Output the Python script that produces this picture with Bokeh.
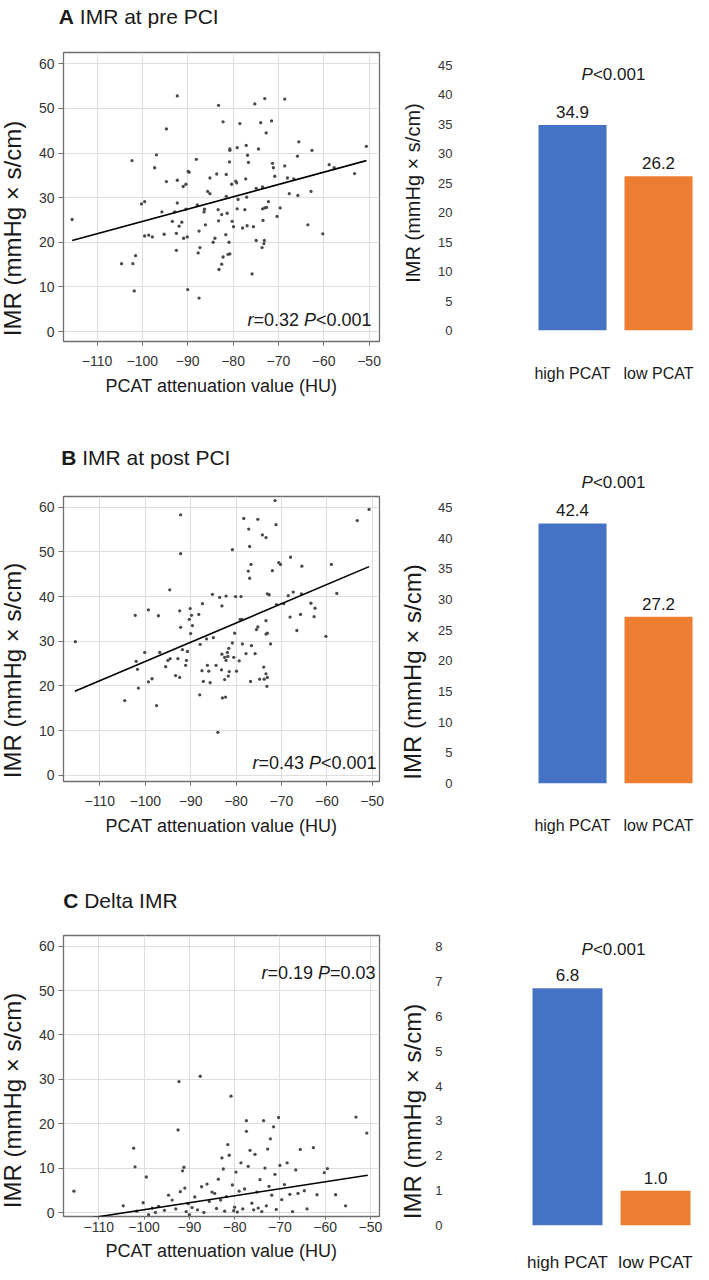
import math
from bokeh.plotting import figure
from bokeh.layouts import column, row
from bokeh.models import Range1d, FixedTicker, Label, LabelSet, ColumnDataSource
from bokeh.core.properties import value
from bokeh.embed import file_html
from bokeh.resources import INLINE

# ---------------- data ----------------
X_TICKS = [-110, -100, -90, -80, -70, -60, -50]
X_TICK_LABELS = ["\u2212110", "\u2212100", "\u221290", "\u221280", "\u221270", "\u221260", "\u221250"]
Y_TICKS = [0, 10, 20, 30, 40, 50, 60]

A_hu = [-115.5, -102.3, -104.6, -102.1, -101.5, -101.8, -100.2, -99.5, -99.5, -98.6, -97.8, -97.3, -96.9,
        -95.7, -95.2, -94.7, -94.7, -93.4, -92.9, -92.5, -92.5, -92.3, -92.3, -92.3, -91.9, -91.3, -91.0,
        -90.9, -90.4, -90.4, -90.1, -90.0, -89.9, -89.7, -88.1, -87.9, -87.7, -87.5, -87.3, -87.5, -86.3,
        -86.4, -86.1, -85.6, -85.1, -85.1, -84.4, -84.0, -83.6, -83.3, -83.2, -83.1, -83.2, -82.5, -82.2,
        -82.5, -82.2, -81.6, -81.5, -81.5, -81.3, -80.9, -81.1, -80.7, -80.8, -80.7, -80.7, -80.3, -80.2,
        -79.9, -79.4, -79.2, -79.1, -79.1, -78.9, -78.5, -77.9, -77.4, -77.2, -77.1, -77.0, -76.9, -76.8,
        -76.6, -75.5, -75.8, -75.2, -74.9, -74.9, -74.4, -73.9, -73.6, -73.5, -73.5, -73.4, -73.2, -73.1,
        -73.0, -73.0, -72.7, -72.6, -72.2, -71.5, -71.3, -71.1, -70.8, -70.3, -69.6, -68.6, -68.6, -68.0,
        -67.6, -66.6, -65.8, -65.7, -65.5, -63.5, -62.8, -62.6, -60.2, -58.8, -57.7, -53.2, -50.6]
A_imr = [25.1, 38.3, 15.2, 15.2, 17.0, 9.1, 28.6, 29.1, 21.4, 21.6, 21.2, 36.7, 39.6,
         26.8, 21.8, 45.4, 33.6, 24.7, 26.8, 22.0, 18.2, 52.8, 33.9, 28.8, 23.6, 24.5, 32.5,
         20.9, 33.0, 27.4, 21.2, 9.4, 35.9, 35.7, 38.6, 28.4, 17.6, 22.5, 18.8, 7.5, 27.4,
         26.8, 23.9, 31.4, 30.9, 34.4, 20.0, 20.9, 35.3, 27.3, 24.8, 13.9, 50.7, 15.1, 16.7,
         26.2, 47.0, 21.7, 30.3, 35.2, 26.5, 20.0, 17.3, 17.4, 38.0, 40.9, 40.6, 33.0, 24.7,
         23.5, 33.7, 33.3, 41.2, 27.5, 29.6, 46.6, 23.2, 27.3, 34.2, 41.7, 30.1, 23.7, 39.5,
         37.9, 23.5, 12.9, 51.0, 32.1, 20.4, 40.9, 46.8, 18.8, 32.4, 27.5, 24.9, 19.7, 20.4,
         52.2, 27.7, 44.5, 27.8, 29.1, 47.2, 37.7, 36.7, 34.8, 25.8, 27.7, 52.1, 37.1, 34.4,
         30.9, 34.2, 39.3, 30.5, 42.5, 23.9, 31.4, 40.6, 21.9, 37.4, 36.7, 35.4, 41.5]
A_fit_hu = [-115.5, -50.6]
A_fit_imr = [20.4, 38.3]

B_hu = [-115.4, -102.2, -102.0, -101.7, -101.5, -100.1, -99.3, -99.3, -98.5, -97.1, -96.8, -95.5, -95.0,
        -94.5, -94.6, -93.3, -92.8, -92.4, -92.4, -92.2, -92.2, -92.2, -91.8, -91.1, -90.9, -90.7, -90.3,
        -90.1, -90.0, -89.8, -89.6, -88.2, -87.9, -87.5, -87.4, -87.2, -86.5, -86.3, -86.0, -85.7, -85.2,
        -85.0, -84.4, -83.6, -83.1, -83.1, -83.2, -82.5, -82.5, -82.2, -82.2, -81.9, -81.8, -81.5, -81.6,
        -80.1, -78.9, -80.8, -79.1, -78.7, -78.3, -77.2, -77.0, -76.7, -77.3, -77.0, -75.2, -74.2, -73.4,
        -71.4, -71.2, -72.0, -70.6, -70.2, -68.0, -65.5, -59.0, -53.3, -50.7, -73.1, -72.7, -71.1, -69.5,
        -68.5, -67.4, -65.6, -63.5, -62.6, -68.1, -65.8, -62.8, -57.8, -66.6, -60.2, -73.4, -75.2, -75.5,
        -73.4, -73.1, -72.4, -80.3, -80.8, -78.6, -76.6, -75.8, -77.8, -80.5, -79.3, -79.9, -73.9, -73.4,
        -73.1, -73.8, -74.8, -76.8, -81.7, -73.2, -104.5, -97.5, -84.0, -83.0, -82.3, -88.0]
B_imr = [29.9, 35.8, 25.5, 23.7, 19.5, 27.5, 37.0, 20.9, 21.6, 35.7, 27.5, 24.3, 25.7,
         26.1, 41.5, 22.3, 26.1, 21.9, 36.8, 33.1, 58.3, 49.6, 28.1, 24.6, 25.7, 27.7, 34.9,
         37.3, 31.7, 35.8, 33.5, 36.0, 29.3, 23.4, 38.4, 21.0, 30.5, 24.6, 23.3, 20.7, 40.5,
         30.8, 24.6, 39.8, 37.9, 27.1, 23.6, 26.4, 21.4, 40.1, 25.7, 27.5, 26.6, 23.2, 28.4,
         40.0, 40.0, 50.5, 34.9, 34.9, 57.5, 55.1, 51.2, 47.2, 45.7, 44.1, 57.3, 53.8, 53.2,
         61.5, 56.1, 45.8, 47.6, 47.2, 48.8, 46.8, 47.2, 57.0, 59.5, 40.6, 40.4, 38.2, 38.4,
         40.2, 41.0, 40.6, 38.5, 37.4, 35.4, 36.0, 35.5, 40.7, 32.4, 31.1, 34.6, 33.2, 32.6,
         31.6, 31.8, 29.4, 31.8, 29.6, 29.4, 29.0, 27.2, 27.2, 26.4, 25.6, 23.3, 24.2, 22.7,
         21.9, 21.5, 21.5, 21.0, 22.2, 19.9, 16.7, 15.6, 9.6, 17.3, 17.5, 18.0]
B_fit_hu = [-115.5, -50.7]
B_fit_imr = [18.8, 46.7]

C_hu = [-115.5, -104.6, -102.3, -102.0, -101.6, -100.2, -99.5, -99.0, -98.2, -97.5, -96.8, -95.5, -94.6,
        -93.8, -93.0, -92.5, -92.3, -92.0, -91.5, -91.2, -91.0, -90.7, -90.3, -90.0, -89.4, -88.8, -88.2,
        -87.6, -87.3, -86.8, -86.1, -85.6, -85.0, -84.4, -84.0, -83.6, -83.1, -82.8, -82.5, -82.2, -81.8,
        -81.5, -81.2, -80.8, -80.5, -80.2, -80.0, -79.7, -79.4, -79.0, -78.6, -78.2, -77.8, -77.4, -77.4,
        -77.0, -76.6, -76.2, -75.8, -75.5, -75.1, -74.8, -74.4, -74.0, -73.6, -73.3, -73.0, -72.7, -72.4,
        -72.1, -71.8, -71.4, -71.1, -70.8, -70.3, -70.0, -69.6, -69.0, -68.4, -67.8, -67.2, -66.5, -66.0,
        -65.5, -64.6, -64.0, -62.6, -61.8, -60.2, -59.5, -57.7, -55.5, -53.2, -50.8]
C_dimr = [4.8, 1.5, 14.5, 10.3, 0.3, 2.2, 8.0, -0.5, 1.0, 0.0, 1.4, 0.5, 3.9,
          2.8, 0.8, 18.6, 29.5, 4.7, 9.4, 10.2, 5.5, 0.2, 2.0, -0.5, 1.1, 3.5, 0.6,
          30.7, 5.8, 0.0, 6.4, 2.5, 4.6, 4.3, 0.9, 7.5, 2.8, 12.3, 9.8, 0.3, 3.6,
          15.3, 12.9, 26.2, 6.2, 0.4, 1.2, 9.1, 0.1, 4.8, 11.2, 0.8, 5.3, 20.7, 18.3,
          10.4, 14.0, 2.1, 0.6, 13.1, 4.6, 1.0, 7.4, 0.2, 20.7, 10.0, 1.5, 14.3, 5.9,
          16.6, 3.9, 19.3, 8.6, 0.7, 21.4, 10.6, 2.9, 6.3, 11.2, 4.1, 0.2, 9.6, 4.3,
          14.2, 4.9, 0.8, 14.6, 4.0, 9.0, 9.9, 4.0, 1.5, 21.5, 17.9]
C_fit_hu = [-115.5, -50.6]
C_fit_dimr = [-1.8, 8.4]

BAR_CATS = ["high PCAT", "low PCAT"]
BAR_IDX = [0, 1]
BAR_COLORS = ["#4472C4", "#ED7D31"]
A_bar = [34.9, 26.2]
B_bar = [42.4, 27.2]
C_bar = [6.8, 1.0]
A_bar_ticks = list(range(0, 50, 5))
C_bar_ticks = list(range(0, 9, 1))

TITLES = [("A", "IMR at pre PCI"), ("B", "IMR at post PCI"), ("C", "Delta IMR")]
STATS = [[("r", "italic"), ("=0.32 ", "normal"), ("P", "italic"), ("<0.001", "normal")],
         [("r", "italic"), ("=0.43 ", "normal"), ("P", "italic"), ("<0.001", "normal")],
         [("r", "italic"), ("=0.19 ", "normal"), ("P", "italic"), ("=0.03", "normal")]]
PTEXT = [("P", "italic"), ("<0.001", "normal")]
YLABEL = "IMR (mmHg \u00d7 s/cm)"
XLABEL = "PCAT attenuation value (HU)"

# ---------------- helpers ----------------
FONT = "Liberation Sans"
INK = "#1a1a1a"
W = {' ': 278, '.': 278, '=': 584, '<': 584, '(': 333, ')': 333, '/': 278, '\u00d7': 584,
     'A': 667, 'B': 667, 'C': 722, 'D': 722, 'H': 722, 'I': 278, 'M': 833, 'P': 667, 'R': 722,
     'T': 611, 'U': 722, 'a': 556, 'c': 500, 'e': 556, 'g': 556, 'h': 556, 'i': 222, 'l': 222,
     'm': 833, 'n': 556, 'o': 556, 'p': 556, 'r': 333, 's': 500, 't': 278, 'u': 556, 'v': 500, 'w': 722}
WB = {'A': 722, 'B': 722, 'C': 722, ' ': 278}


def tw(s, size, bold=False):
    t = 0
    for ch in s:
        if bold and ch in WB:
            t += WB[ch]
        else:
            t += W.get(ch, 556)
    return t * size / 1000.0


def no_align(p):
    try:
        p.frame_align = False
    except Exception:
        pass


def rich(p, x, y, segs, size, align="left"):
    y = y + 5
    widths = [tw(t, size, st == "bold") for t, st in segs]
    total = sum(widths)
    x0 = x - total if align == "right" else (x - total / 2 if align == "center" else x)
    for (t, st), w in zip(segs, widths):
        lead = len(t) - len(t.lstrip(" "))
        p.add_layout(Label(x=x0 + tw(" " * lead, size, st == "bold"), y=y, x_units="screen", y_units="screen",
                           text=t.strip(" "), text_font=FONT, text_font_size=f"{size}px",
                           text_font_style=st, text_align="left",
                           text_baseline="alphabetic", text_color=INK))
        x0 += w


def strip(w, h):
    p = figure(width=w, height=h, x_range=Range1d(0, w), y_range=Range1d(0, h),
               x_axis_type=None, y_axis_type=None, output_backend="svg", toolbar_location=None,
               min_border_left=0, min_border_right=0, min_border_top=0, min_border_bottom=0)
    p.outline_line_color = None
    p.background_fill_color = "white"
    p.border_fill_color = "white"
    no_align(p)
    return p


def ylab_strip(w, h, x, y, size):
    p = strip(w, h)
    p.add_layout(Label(x=x, y=y, x_units="screen", y_units="screen", text=YLABEL, angle=math.pi / 2,
                       text_font=FONT, text_font_size=f"{size}px", text_align="center",
                       text_baseline="middle", text_color=INK))
    return p


def title_strip(idx, h, x, y):
    p = strip(355, h)
    letter, rest = TITLES[idx]
    rich(p, x, y, [(letter, "bold"), (" " + rest, "normal")], 21)
    return p


def scatter_panel(idx, hu, imr, fhu, fimr, xr, yr, h, bt, bb, stats_xy,
                  tick_out, tick_standoff, label_standoff):
    p = figure(width=355, height=h, x_range=Range1d(*xr), y_range=Range1d(*yr),
               output_backend="svg", toolbar_location=None,
               min_border_left=30, min_border_right=9, min_border_top=bt, min_border_bottom=bb)
    no_align(p)
    p.background_fill_color = "white"
    p.border_fill_color = "white"
    p.outline_line_color = "#6e6e6e"
    p.outline_line_width = 1.3
    p.xgrid.grid_line_color = "#dedede"
    p.ygrid.grid_line_color = "#dedede"
    p.xaxis.ticker = FixedTicker(ticks=X_TICKS)
    p.yaxis.ticker = FixedTicker(ticks=Y_TICKS)
    p.xaxis.major_label_overrides = {t: l for t, l in zip(X_TICKS, X_TICK_LABELS)}
    p.axis.axis_line_color = None
    p.axis.minor_tick_line_color = None
    p.axis.major_tick_line_color = "#6e6e6e"
    p.axis.major_tick_in = 0
    p.yaxis.major_tick_out = 5
    p.xaxis.major_tick_out = tick_out
    p.yaxis.major_label_standoff = 4
    p.xaxis.major_label_standoff = tick_standoff
    p.axis.major_label_text_font = FONT
    p.axis.major_label_text_font_size = "14px"
    p.axis.major_label_text_color = "#333333"
    p.xaxis.axis_label = XLABEL
    p.xaxis.axis_label_text_font = FONT
    p.xaxis.axis_label_text_font_size = "18px"
    p.xaxis.axis_label_text_font_style = "normal"
    p.xaxis.axis_label_text_color = INK
    p.xaxis.axis_label_standoff = label_standoff
    p.scatter(hu, imr, size=3.3, marker="circle", fill_color="#4a4a4a", line_color=None)
    p.line(fhu, fimr, line_color="black", line_width=1.6)
    rich(p, stats_xy[0], stats_xy[1], STATS[idx], 18, align="right")
    return p


def bar_panel(vals, xr, bw, yend, ticks, h, bt, bb, tick_standoff, cat_standoff, cat_size, p_y):
    p = figure(width=279, height=h, x_range=Range1d(*xr), y_range=Range1d(0, yend),
               output_backend="svg", toolbar_location=None,
               min_border_left=32, min_border_right=9, min_border_top=bt, min_border_bottom=bb)
    no_align(p)
    p.outline_line_color = None
    p.xgrid.visible = False
    p.ygrid.visible = False
    src = ColumnDataSource(dict(x=BAR_IDX, top=vals, color=BAR_COLORS,
                                txt=[f"{v:.1f}" for v in vals]))
    p.vbar(x="x", top="top", width=bw, fill_color="color", line_color=None, source=src)
    p.add_layout(LabelSet(x="x", y="top", text="txt", source=src, text_align="center",
                          text_baseline="alphabetic", y_offset=7, text_font=value(FONT),
                          text_font_size=value("17px"), text_color=INK))
    p.xaxis.ticker = FixedTicker(ticks=BAR_IDX)
    p.xaxis.major_label_overrides = {i: c for i, c in zip(BAR_IDX, BAR_CATS)}
    p.yaxis.ticker = FixedTicker(ticks=ticks)
    p.axis.axis_line_color = None
    p.axis.major_tick_line_color = None
    p.axis.minor_tick_line_color = None
    p.axis.major_tick_out = 0
    p.axis.major_tick_in = 0
    p.axis.major_label_text_font = FONT
    p.axis.major_label_text_color = "#333333"
    p.yaxis.major_label_text_font_size = "13px"
    p.yaxis.major_label_standoff = tick_standoff
    p.xaxis.major_label_text_font_size = f"{cat_size}px"
    p.xaxis.major_label_text_color = INK
    p.xaxis.major_label_standoff = cat_standoff
    rich(p, 151, p_y, PTEXT, 17, align="center")
    return p


# Row A (height 428)
tA = title_strip(0, 44, 25.3, 23.3)
sA = scatter_panel(0, A_hu, A_imr, A_fit_hu, A_fit_imr, (-117.4, -47.7), (-2.24, 62.53), 384, 8, 87,
                   (308, 17), 4, 10, 7)
bA = bar_panel(A_bar, (-1.279, 1.488), 0.791, 47.2, A_bar_ticks, 428, 52, 98, 10, 34, 16, 250.7)
rowA = row(ylab_strip(33, 428, 12, 200, 24), column(tA, sA), ylab_strip(42, 428, 24, 235.5, 20), bA)

# Row B (height 430)
tB = title_strip(1, 60, 27.7, 26.3)
sB = scatter_panel(1, B_hu, B_imr, B_fit_hu, B_fit_imr, (-118.0, -48.4), (-1.41, 62.40), 370, 8, 77,
                   (313, 14), 4, 10, 7)
bB = bar_panel(B_bar, (-1.279, 1.488), 0.791, 51.04, A_bar_ticks, 430, 42, 75, 10, 33, 16, 296.3)
rowB = row(ylab_strip(33, 430, 12, 188, 24), column(tB, sB), ylab_strip(42, 430, 24, 186.5, 24), bB)

# Row C (height 420)
tC = title_strip(2, 70, 29.7, 23)
sC = scatter_panel(2, C_hu, C_dimr, C_fit_hu, C_fit_dimr, (-117.8, -48.0), (-0.90, 62.41), 350, 7, 62,
                   (312, 239), 3, 2, 6)
bC = bar_panel(C_bar, (-1.193, 1.511), 0.795, 8.459, C_bar_ticks, 420, 72, 53, 20, 27, 17, 271)
rowC = row(ylab_strip(33, 420, 12, 178, 24), column(tC, sC), ylab_strip(42, 420, 24, 167, 24), bC)

layout = column(rowA, rowB, rowC)
open("out.html", "w").write(file_html(layout, INLINE))
